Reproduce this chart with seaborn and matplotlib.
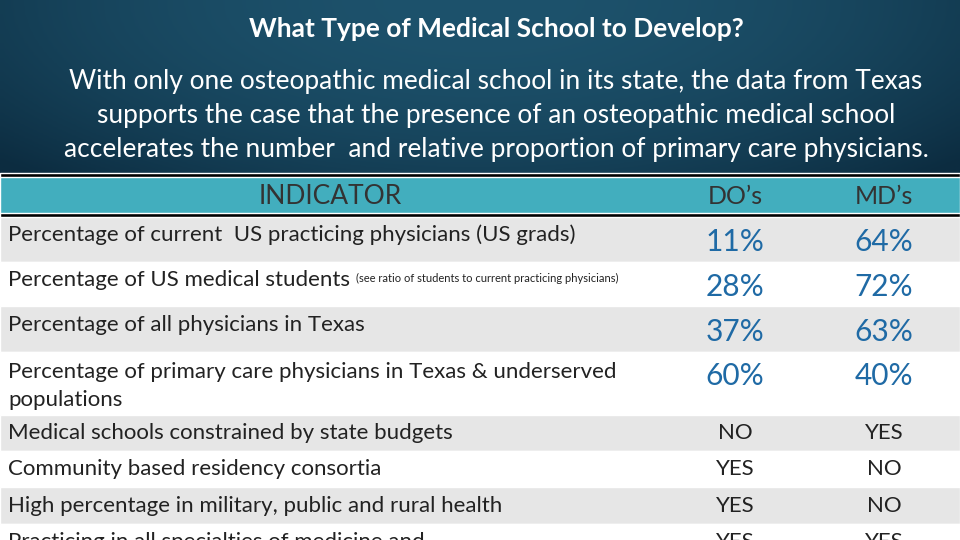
import numpy as np
import seaborn as sns
import matplotlib.pyplot as plt

sns.set_theme(style="white")
plt.rcParams["font.family"] = ["Lato", "DejaVu Sans"]

title = "What Type of Medical School to Develop?"
subtitle = ["With only one osteopathic medical school in its state, the data from Texas",
            "supports the case that the presence of an osteopathic medical school",
            "accelerates the number  and relative proportion of primary care physicians."]
headers = ["INDICATOR", "DO\u2019s", "MD\u2019s"]
indicators = ["Percentage of current  US practicing physicians (US grads)",
              "Percentage of US medical students",
              "Percentage of all physicians in Texas",
              "Percentage of primary care physicians in Texas & underserved\npopulations",
              "Medical schools constrained by state budgets",
              "Community based residency consortia",
              "High percentage in military, public and rural health",
              "Practicing in all specialties of medicine and"]
notes = ["", "(see ratio of students to current practicing physicians)", "", "", "", "", "", ""]
do_vals = ["11%", "28%", "37%", "60%", "NO", "YES", "YES", "YES"]
md_vals = ["64%", "72%", "63%", "40%", "YES", "NO", "NO", "YES"]

# layout (pixels)
row_h = [46, 44, 46, 63, 36, 36, 37, 36]
table_top = 216
col_do, col_md = 735, 884

fig = plt.figure(figsize=(9.6, 5.4), dpi=100)
ax = fig.add_axes([0, 0, 1, 1])
ax.set_xlim(0, 960)
ax.set_ylim(540, 0)
ax.axis("off")

# gradient header background
xx = np.linspace(-1, 1, 200)
yy = np.linspace(0, 1, 60)
X, Y = np.meshgrid(xx, yy)
glow = np.clip(1 - 0.55 * X ** 2 - 0.5 * Y ** 2, 0, 1)
c0 = np.array([0x0c, 0x2c, 0x40]) / 255
c1 = np.array([0x1d, 0x52, 0x6c]) / 255
img = c0 + (c1 - c0) * glow[..., None]
ax.imshow(img, extent=(0, 960, 173, 0), aspect="auto", zorder=0)

# header band and black rules
ax.barh(195, 960, height=38, left=0, color="#42AEBE", zorder=1)
ax.barh(174.5, 960, height=4, left=0, color="black", zorder=2)
ax.barh(214.5, 960, height=4, left=0, color="black", zorder=2)

# rows
tops = table_top + np.concatenate([[0], np.cumsum(row_h)[:-1]])
for i, (t, h) in enumerate(zip(tops, row_h)):
    ax.barh(t + h / 2, 960, height=h, left=0,
            color="#E6E6E6" if i % 2 == 0 else "white", zorder=1)

ax.text(496, 29, title, color="white", fontsize=19, fontweight="bold",
        ha="center", va="center", zorder=3)
for k, line in enumerate(subtitle):
    ax.text(496, 82 + 34 * k, line, color="white", fontsize=18.9,
            ha="center", va="center", zorder=3)

ax.text(330, 196, headers[0], color="#333333", fontsize=19, ha="center", va="center", zorder=3)
ax.text(col_do, 196, headers[1], color="#333333", fontsize=18, ha="center", va="center", zorder=3)
ax.text(col_md, 196, headers[2], color="#333333", fontsize=18, ha="center", va="center", zorder=3)

for i, (t, h) in enumerate(zip(tops, row_h)):
    lab = indicators[i]
    cy = t + h / 2
    if "\n" in lab:
        ax.text(8, t + 10, lab, color="#222222", fontsize=16, ha="left", va="top",
                linespacing=1.5, zorder=3)
        txt = None
    else:
        ly = cy - 4 if i < 4 else cy
        txt = ax.text(8, ly, lab, color="#222222", fontsize=16, ha="left",
                      va="center", zorder=3)
    if notes[i] and txt is not None:
        ax.annotate(notes[i], xy=(1, 0.3), xycoords=txt, xytext=(4, 0),
                    textcoords="offset points", color="#222222", fontsize=8,
                    ha="left", va="bottom", zorder=3)
    for col, v in [(col_do, do_vals[i]), (col_md, md_vals[i])]:
        if v.endswith("%"):
            vy = cy + 3 if "\n" not in lab else t + 24
            ax.text(col, vy, v, color="#1F6AA5", fontsize=21.5, ha="center",
                    va="center", zorder=3)
        else:
            ax.text(col, cy, v, color="#222222", fontsize=16, ha="center",
                    va="center", zorder=3)

fig.savefig("out.png", dpi=100)
